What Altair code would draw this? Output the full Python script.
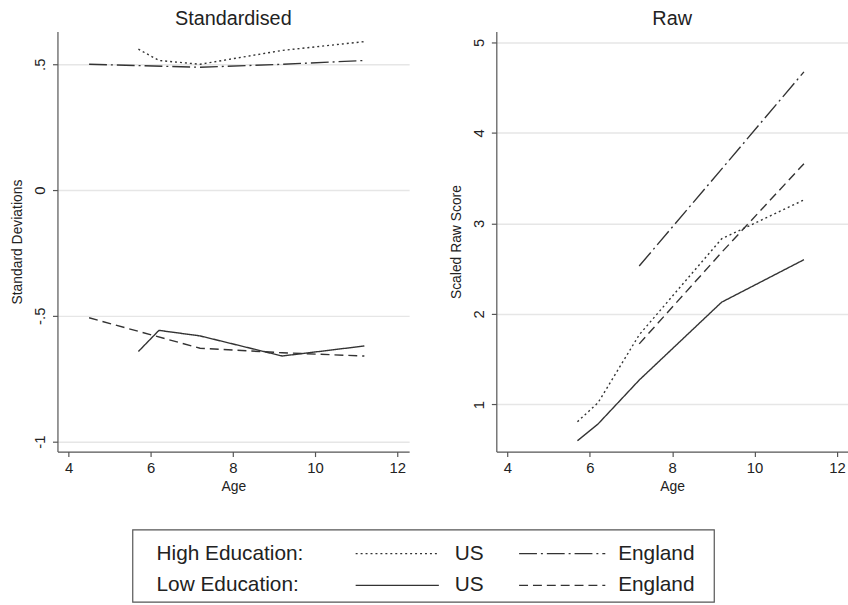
import altair as alt
import pandas as pd

# ---------------- data ----------------
ages_us = [5.7, 6.2, 7.2, 9.2, 11.2]
ages_eng_std = [4.5, 7.2, 9.2, 11.2]
ages_eng_raw = [7.2, 9.2, 11.2]

std_high_us = [0.56, 0.515, 0.50, 0.555, 0.59]
std_high_eng = [0.50, 0.488, 0.50, 0.515]
std_low_us = [-0.642, -0.558, -0.58, -0.66, -0.62]
std_low_eng = [-0.508, -0.629, -0.647, -0.66]

raw_high_us = [0.81, 1.02, 1.77, 2.83, 3.26]
raw_high_eng = [2.53, 3.6, 4.675]
raw_low_us = [0.60, 0.785, 1.27, 2.13, 2.60]
raw_low_eng = [1.67, 2.68, 3.66]

series = ["High US", "High England", "Low US", "Low England"]
dash_styles = [[2, 3], [18, 4, 2, 4], [1, 0], [9, 5]]

edu_labels = ["High Education:", "Low Education:"]
countries = ["US", "England"]

std_x_ticks = [4, 6, 8, 10, 12]
std_y_ticks = [-1, -0.5, 0, 0.5]
raw_y_ticks = [1, 2, 3, 4, 5]

# ---------------- tables ----------------
def build(pairs):
    rows = []
    for name, ages, vals in pairs:
        for a, v in zip(ages, vals):
            rows.append({"series": name, "age": a, "value": v})
    return pd.DataFrame(rows)

std_df = build([
    ("High US", ages_us, std_high_us),
    ("High England", ages_eng_std, std_high_eng),
    ("Low US", ages_us, std_low_us),
    ("Low England", ages_eng_std, std_low_eng),
])
raw_df = build([
    ("High US", ages_us, raw_high_us),
    ("High England", ages_eng_raw, raw_high_eng),
    ("Low US", ages_us, raw_low_us),
    ("Low England", ages_eng_raw, raw_low_eng),
])

leg_rows = []
for i, edu in enumerate(edu_labels):
    for j, c in enumerate(countries):
        leg_rows.append({"edu": edu, "country": c, "series": series[i * 2 + j]})
leg_df = pd.DataFrame(leg_rows)

FONT = "Liberation Sans"
LINE = "#333333"
TEXT = "#222222"

dash_scale = alt.Scale(domain=series, range=dash_styles)

def panel(df, title, ytitle, ydomain, yticks, xdomain):
    return (
        alt.Chart(df)
        .mark_line(color=LINE, strokeWidth=1.4)
        .encode(
            x=alt.X("age:Q", scale=alt.Scale(domain=xdomain, nice=False, zero=False),
                    axis=alt.Axis(values=std_x_ticks, title="Age", grid=False,
                                  labelAngle=0, labelPadding=4, titlePadding=4)),
            y=alt.Y("value:Q", scale=alt.Scale(domain=ydomain, nice=False, zero=False),
                    axis=alt.Axis(values=yticks, title=ytitle, grid=True,
                                  labelAngle=-90, labelAlign="center",
                                  labelBaseline="bottom", labelPadding=5,
                                  titlePadding=8,
                                  labelExpr="replace(toString(datum.value), '0.', '.')")),
            strokeDash=alt.StrokeDash("series:N", scale=dash_scale, legend=None),
            detail="series:N",
        )
        .properties(
            width=355, height=424,
            title=alt.TitleParams(title, fontSize=20, fontWeight="normal",
                                  color=TEXT, font=FONT, offset=3),
        )
    )

left = panel(std_df, "Standardised", "Standard Deviations", [-1.04, 0.63],
             std_y_ticks, [3.73, 12.29])
right = panel(raw_df, "Raw", "Scaled Raw Score", [0.48, 5.12],
              raw_y_ticks, [3.73, 12.27])

# ---------------- legend ----------------
ly = alt.Y("edu:N", axis=None,
           scale=alt.Scale(type="point", domain=edu_labels, range=[24, 56], padding=0))
base = alt.Chart(leg_df)

box = base.transform_filter(
    (alt.datum.country == "US") & (alt.datum.edu == edu_labels[0])
).mark_rect(fill=None, stroke="#555555", strokeWidth=1.2).encode(
    x=alt.value(76), x2=alt.value(663), y=alt.value(0), y2=alt.value(73)
)

edu_text = base.transform_filter(alt.datum.country == "US").mark_text(
    align="left", baseline="middle", fontSize=21, font=FONT, color=TEXT
).encode(x=alt.value(100), y=ly, text="edu:N")

def entry(country, x0, x1, xt):
    sub = base.transform_filter(alt.datum.country == country)
    rule = sub.mark_rule(color=LINE, strokeWidth=1.4).encode(
        x=alt.value(x0), x2=alt.value(x1), y=ly,
        strokeDash=alt.StrokeDash("series:N", scale=dash_scale, legend=None),
    )
    txt = sub.mark_text(align="left", baseline="middle", fontSize=21,
                        font=FONT, color=TEXT).encode(
        x=alt.value(xt), y=ly, text="country:N")
    return rule + txt

legend = alt.layer(
    box,
    edu_text,
    entry("US", 301, 385, 401),
    entry("England", 466, 553, 566),
).properties(width=665, height=73)

chart = (
    alt.vconcat(
        alt.hconcat(left, right, spacing=41),
        legend,
        spacing=36,
    )
    .properties(padding={"left": 11, "top": 6, "right": 0, "bottom": 0},
                background="white")
    .configure_view(stroke=None)
    .configure_axis(
        domainColor="#555555", domainWidth=1.2, tickColor="#555555", tickWidth=1.2,
        tickSize=5, labelColor=TEXT, titleColor=TEXT, labelFont=FONT, titleFont=FONT,
        labelFontSize=15, titleFontSize=14, titleFontWeight="normal",
        gridColor="#e6e6e6", gridWidth=1.5,
    )
)

chart.save("out.html", embed_options={"renderer": "svg", "actions": False})
